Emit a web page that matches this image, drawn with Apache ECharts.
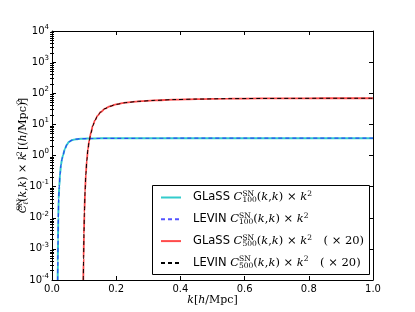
<!DOCTYPE html>
<html><head><meta charset="utf-8">
<script src="https://cdn.jsdelivr.net/npm/echarts@6/dist/echarts.min.js"></script>
<style>html,body{margin:0;padding:0;background:#fff}#c{width:415px;height:312px}</style>
</head><body><div id="c"></div>
<script>
// ---- data ----
const kC100 = [0.0177,0.0182,0.0188,0.0196,0.0208,0.0226,0.025,0.028,0.031,0.034,0.040,0.046,0.053,0.062,0.075,0.09,0.11,0.15,0.2,0.3,0.4,0.5,0.6,0.7,0.8,0.9,1.0];
const glassC100 = [1e-4,4e-4,2e-3,0.01,0.04,0.1,0.25,0.5,0.75,1.0,1.6,2.2,2.75,3.1,3.35,3.45,3.5,3.55,3.57,3.58,3.6,3.6,3.6,3.6,3.6,3.6,3.6];
const levinC100 = [1e-4,4e-4,2e-3,0.01,0.04,0.1,0.25,0.5,0.75,1.0,1.6,2.2,2.75,3.1,3.35,3.45,3.5,3.55,3.57,3.58,3.6,3.6,3.6,3.6,3.6,3.6,3.6];
const kC500 = [0.0975,0.0985,0.0995,0.101,0.103,0.1055,0.1085,0.112,0.116,0.121,0.127,0.134,0.142,0.152,0.165,0.18,0.2,0.23,0.27,0.32,0.38,0.45,0.55,0.65,0.75,0.85,0.95,1.0];
const glassC500x20 = [1e-4,5e-4,3e-3,0.015,0.07,0.25,0.7,1.6,3.0,5.2,9,13.5,19,25,32,38,44,50,55,59,62.5,65,67,68,68.5,69,69,69];
const levinC500x20 = [1e-4,5e-4,3e-3,0.015,0.07,0.25,0.7,1.6,3.0,5.2,9,13.5,19,25,32,38,44,50,55,59,62.5,65,67,68,68.5,69,69,69];
const xTicks = [0, 0.2, 0.4, 0.6, 0.8, 1.0];
const yExponents = [-4,-3,-2,-1,0,1,2,3,4];
const legendNames = ['GLaSS100','LEVIN100','GLaSS500','LEVIN500'];

const minorY = [];
for (let e = -4; e < 4; e++) for (let m = 2; m <= 9; m++) minorY.push(m * Math.pow(10, e));

const zip = (a, b) => a.map((v, i) => [v, b[i]]);
const serif = '"DejaVu Serif", "Liberation Serif", serif';
const sans = '"DejaVu Sans", sans-serif';

const legendRich = {
  t: {fontFamily: sans, fontSize: 11.5, color: '#000'},
  m: {fontFamily: serif, fontStyle: 'italic', fontSize: 11.5, color: '#000'},
  r: {fontFamily: serif, fontSize: 11.5, color: '#000'},
  sup: {fontFamily: serif, fontSize: 7.5, color: '#000', padding: [0,0,7,0], width: 0},
  sub: {fontFamily: serif, fontSize: 7.5, color: '#000', padding: [6,0,0,0]},
  g: {width: 7},
  sp: {width: 9}
};
const mathPart = n => '{m|C}{sup|SN}{sub|' + n + '}{r|(}{m|k}{r|,}{m|k}{r|) × }{m|k}{sup|2}';
const legendText = {
  GLaSS100: '{g|}{t|GLaSS }' + mathPart(100),
  LEVIN100: '{g|}{t|LEVIN }' + mathPart(100),
  GLaSS500: '{g|}{t|GLaSS }' + mathPart(500) + '{sp|}{r|  ( × 20)}',
  LEVIN500: '{g|}{t|LEVIN }' + mathPart(500) + '{sp|}{r|  ( × 20)}'
};

const tickStyle = {show: true, inside: true, length: 4, lineStyle: {color: '#000', width: 1}};
const minorTickStyle = {show: true, inside: true, length: 2, customValues: minorY, lineStyle: {color: '#000', width: 1}};

const chart = echarts.init(document.getElementById('c'), null, {renderer: 'canvas'});
chart.setOption({
  animation: false,
  backgroundColor: '#fff',
  grid: {left: 52, right: 42, top: 31, bottom: 32, containLabel: false},
  xAxis: [
    {type: 'value', min: 0, max: 1, interval: 0.2, position: 'bottom',
     axisLine: {show: true, onZero: false, lineStyle: {color: '#000', width: 1}},
     axisTick: tickStyle, splitLine: {show: false},
     axisLabel: {customValues: xTicks, fontFamily: sans, fontSize: 10, color: '#000', margin: 4, formatter: v => v.toFixed(1)},
     name: '{m|k}{r|[}{m|h}{r|/Mpc]}', nameLocation: 'middle', nameGap: 15, nameMoveOverlap: false,
     nameTextStyle: {rich: {m: {fontFamily: serif, fontStyle: 'italic', fontSize: 11, color: '#000'}, r: {fontFamily: serif, fontSize: 11, color: '#000'}}}},
    {type: 'value', min: 0, max: 1, interval: 0.2, position: 'top',
     axisLine: {show: true, onZero: false, lineStyle: {color: '#000', width: 1}},
     axisTick: tickStyle, axisLabel: {show: false}, splitLine: {show: false}}
  ],
  yAxis: [
    {type: 'log', logBase: 10, min: 1e-4, max: 1e4, position: 'left',
     axisLine: {show: true, onZero: false, lineStyle: {color: '#000', width: 1}},
     axisTick: tickStyle, splitLine: {show: false},
     axisLabel: {fontFamily: sans, fontSize: 10, color: '#000', margin: 3,
       customValues: yExponents.map(e => Math.pow(10, e)),
       formatter: v => '{b|10}{e|' + Math.round(Math.log10(v)) + '}',
       rich: {b: {fontFamily: sans, fontSize: 10, color: '#000'}, e: {fontFamily: sans, fontSize: 7, color: '#000', padding: [0,0,8,0]}}},
     name: '{m|C}{sup|SN}{sub|ℓ}{r|(}{m|k}{r|,}{m|k}{r|) × }{m|k}{sup|2}{r| [(}{m|h}{r|/Mpc)}{sup|2}{r|]}',
     nameLocation: 'middle', nameRotate: 90, nameGap: 21, nameMoveOverlap: false,
     nameTextStyle: {rich: {
       m: {fontFamily: serif, fontStyle: 'italic', fontSize: 11, color: '#000'},
       r: {fontFamily: serif, fontSize: 11, color: '#000'},
       sup: {fontFamily: serif, fontSize: 7.5, color: '#000', padding: [0,0,7,0], width: 0},
       sub: {fontFamily: serif, fontStyle: 'italic', fontSize: 7.5, color: '#000', padding: [6,0,0,0]}}}},
    {type: 'log', logBase: 10, min: 1e-4, max: 1e4, position: 'right',
     axisLine: {show: true, onZero: false, lineStyle: {color: '#000', width: 1}},
     axisTick: tickStyle, axisLabel: {show: false}, splitLine: {show: false}},
    {type: 'log', logBase: 10, min: 1e-4, max: 1e4, position: 'left',
     axisLine: {show: false}, axisTick: minorTickStyle, axisLabel: {show: false}, splitLine: {show: false}},
    {type: 'log', logBase: 10, min: 1e-4, max: 1e4, position: 'right',
     axisLine: {show: false}, axisTick: minorTickStyle, axisLabel: {show: false}, splitLine: {show: false}}
  ],
  legend: {
    orient: 'vertical', left: 160, top: 190, itemWidth: 20, itemHeight: 10, itemGap: 7.3,
    padding: 0, data: legendNames,
    itemStyle: {opacity: 0},
    formatter: n => legendText[n],
    textStyle: {rich: legendRich, lineHeight: 14}
  },
  graphic: [{type: 'rect', shape: {x: 152.5, y: 185.5, width: 217, height: 89}, style: {fill: 'none', stroke: '#000', lineWidth: 1}, z: 1}],
  series: [
    {name: 'GLaSS100', type: 'line', data: zip(kC100, glassC100), symbol: 'none', smooth: 0.3, smoothMonotone: 'x', z: 2,
     lineStyle: {color: 'rgba(0,191,191,0.8)', width: 2, type: 'solid'}, itemStyle: {color: 'rgba(0,191,191,0.8)'}},
    {name: 'LEVIN100', type: 'line', data: zip(kC100, levinC100), symbol: 'none', smooth: 0.3, smoothMonotone: 'x', z: 3,
     lineStyle: {color: 'rgba(40,40,255,0.8)', width: 1.2, type: [4, 3]}, itemStyle: {color: 'rgba(40,40,255,0.8)'}},
    {name: 'GLaSS500', type: 'line', data: zip(kC500, glassC500x20), symbol: 'none', smooth: 0.3, smoothMonotone: 'x', z: 2,
     lineStyle: {color: 'rgba(255,30,30,0.8)', width: 1.8, type: 'solid'}, itemStyle: {color: 'rgba(255,30,30,0.8)'}},
    {name: 'LEVIN500', type: 'line', data: zip(kC500, levinC500x20), symbol: 'none', smooth: 0.3, smoothMonotone: 'x', z: 3,
     lineStyle: {color: '#000', width: 1, type: [4, 3]}, itemStyle: {color: '#000'}}
  ]
});
</script></body></html>
